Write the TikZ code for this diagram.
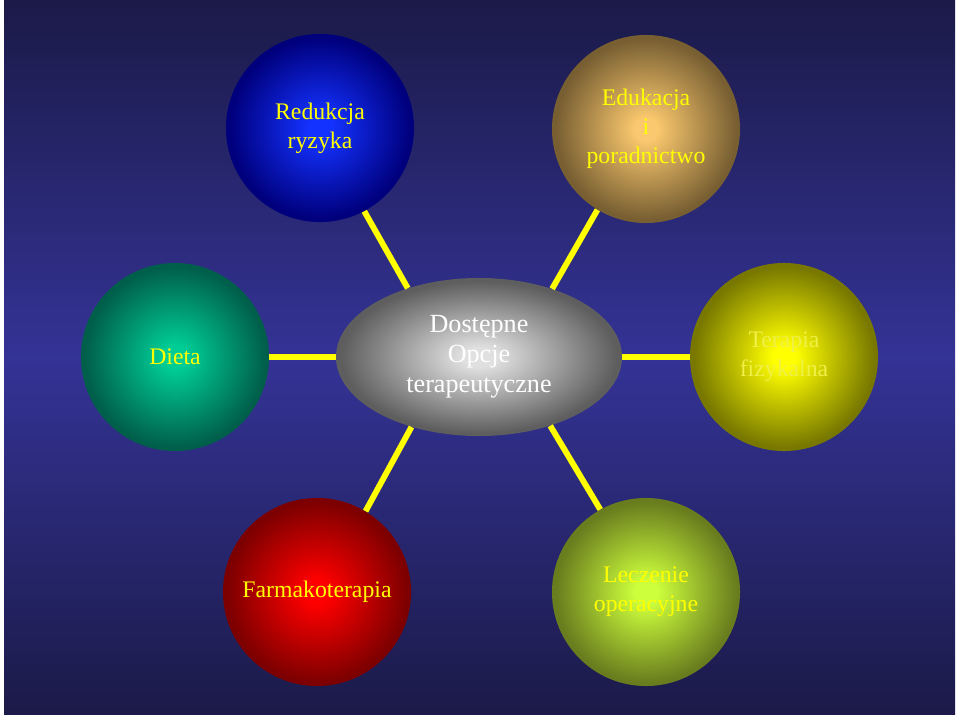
\documentclass[tikz,border=0pt]{standalone}
\usepackage{fontspec}
\setmainfont{Liberation Serif}
\usetikzlibrary{shapes.geometric}

\definecolor{bgdark}{RGB}{27,26,72}
\definecolor{bglight}{RGB}{52,51,150}
\definecolor{txtyellow}{RGB}{255,255,0}
\definecolor{txtpale}{RGB}{240,240,70}
\colorlet{orbin}{white}
\colorlet{orbout}{black}
\pgfdeclareradialshading[orbin,orbout]{orbglow}{\pgfpoint{0bp}{0bp}}{color(0bp)=(orbin); color(3bp)=(orbin); color(24bp)=(orbout); color(25bp)=(orbout); color(50bp)=(orbout)}
\newcommand\orbfont{\fontsize{16.9}{20.5}\selectfont}

\begin{document}
\begin{tikzpicture}[x=0.025cm, y=-0.025cm,
  orb/.style 2 args={circle, minimum size=4.7cm, inner sep=0pt, align=center,
    text=txtyellow, font=\orbfont,
    /utils/exec={\colorlet{orbin}{#1}\colorlet{orbout}{#2}}, shading=orbglow},
  link/.style={draw=txtyellow, line width=4.2pt}]
  \fill[white] (0,0) rectangle (960,716);
  \useasboundingbox (0,0) rectangle (960,716);
  \shade[top color=bgdark, bottom color=bgdark, middle color=bglight] (4,1) rectangle (955,714);

  \node[ellipse, minimum width=7.15cm, minimum height=3.95cm, inner sep=0pt, align=center,
    text=white, font=\fontsize{18.6}{21.3}\selectfont,
    /utils/exec={\colorlet{orbin}{black!12}\colorlet{orbout}{black!63}}, shading=orbglow]
    (opt) at (479,357) {Dostępne\\Opcje\\terapeutyczne};

  \node[orb={rgb,255:red,20;green,50;blue,255}{rgb,255:red,0;green,0;blue,125}] (ryzyko) at (320,128) {Redukcja\\ryzyka};
  \node[orb={rgb,255:red,250;green,200;blue,110}{rgb,255:red,120;green,95;blue,50}] (edu) at (646,129) {Edukacja\\i\\poradnictwo};
  \node[orb={rgb,255:red,0;green,205;blue,150}{rgb,255:red,0;green,95;blue,75}] (dieta) at (175,357) {Dieta};
  \node[orb={rgb,255:red,255;green,255;blue,0}{rgb,255:red,120;green,120;blue,0}, text=txtpale] (fizjo) at (784,357) {Terapia\\fizykalna};
  \node[orb={rgb,255:red,255;green,0;blue,0}{rgb,255:red,125;green,0;blue,0}] (farm) at (317,592) {Farmakoterapia};
  \node[orb={rgb,255:red,205;green,255;blue,60}{rgb,255:red,105;green,125;blue,30}] (oper) at (646,592) {Leczenie\\operacyjne};

  \draw[link] (ryzyko.298) -- (opt.136);
  \draw[link] (edu.239) -- (opt.43);
  \draw[link] (dieta.east) -- (opt.west);
  \draw[link] (opt.east) -- (fizjo.west);
  \draw[link] (farm.59) -- (opt.226);
  \draw[link] (oper.119) -- (opt.316);
\end{tikzpicture}
\end{document}
